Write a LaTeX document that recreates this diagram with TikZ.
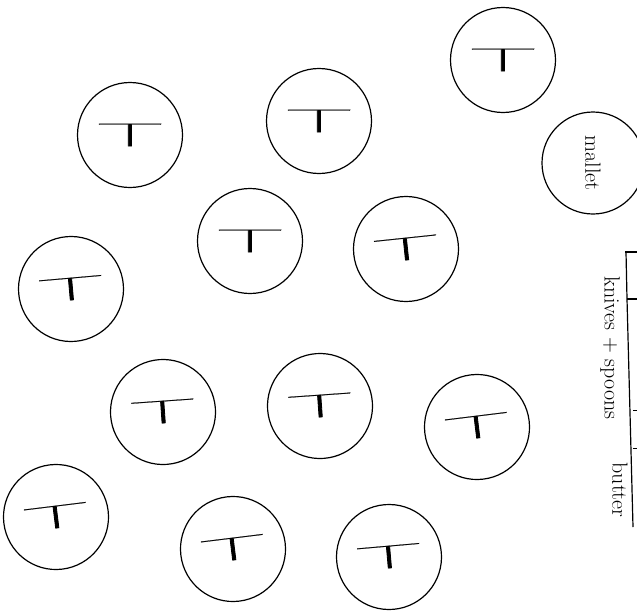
\documentclass[tikz,border=0pt]{standalone}
\usepackage{fontspec}
\newfontfamily\tmarkfont[FakeBold=0.6]{Fira Sans Thin}
\usetikzlibrary{positioning}

\begin{document}
\begin{tikzpicture}[x=1pt,y=-1pt,
    tbl/.style={circle,draw,line width=1.2pt,minimum size=105pt,inner sep=0pt,
      font=\tmarkfont\fontsize{60}{60}\selectfont},
    note/.style={rotate=-90,inner sep=0pt,font=\fontsize{22}{22}\selectfont}]
  \useasboundingbox (0,0) rectangle (637,613);
  \clip (0,0) rectangle (637,613);
  % round tables
  \node[tbl] (tabE) at (503,60) {\scalebox{2.3}[0.55]{T}};
  \node[tbl] (tabA) at (130,135) {\scalebox{2.3}[0.55]{T}};
  \node[tbl] (tabB) at (319,121) {\scalebox{2.3}[0.55]{T}};
  \node[tbl] (tabC) at (250,241) {\scalebox{2.3}[0.55]{T}};
  \node[tbl,rotate=6] (tabG) at (406,249) {\scalebox{2.3}[0.55]{T}};
  \node[tbl,rotate=5] (tabD) at (71,289) {\scalebox{2.3}[0.55]{T}};
  \node[tbl,rotate=4] (tabH) at (163,412) {\scalebox{2.3}[0.55]{T}};
  \node[tbl,rotate=4] (tabK) at (320,406) {\scalebox{2.3}[0.55]{T}};
  \node[tbl,rotate=7] (tabL) at (477,427) {\scalebox{2.3}[0.55]{T}};
  \node[tbl,rotate=7] (tabI) at (56,517) {\scalebox{2.3}[0.55]{T}};
  \node[tbl,rotate=7] (tabJ) at (233,549) {\scalebox{2.3}[0.55]{T}};
  \node[tbl,rotate=5] (tabM) at (389,557) {\scalebox{2.3}[0.55]{T}};
  % mallet
  \node[tbl,minimum size=102pt,rotate=-90,font=\fontsize{22}{22}\selectfont]
    (mallet) at (593,163) {mallet};
  % side table at the edge
  \draw[line width=1.2pt] (625,252) -- (637,252);
  \draw[line width=1.2pt] (626,252) -- (627,299) -- (633,527);
  \draw[line width=1.2pt] (627,299) -- (637,299);
  \draw[line width=0.8pt] (633,410) -- (637,410) (633,448) -- (637,448);
  \node[note] (knives) at (610,348) {knives + spoons};
  \node[note] (butter) at (620,490) {butter};
\end{tikzpicture}
\end{document}
